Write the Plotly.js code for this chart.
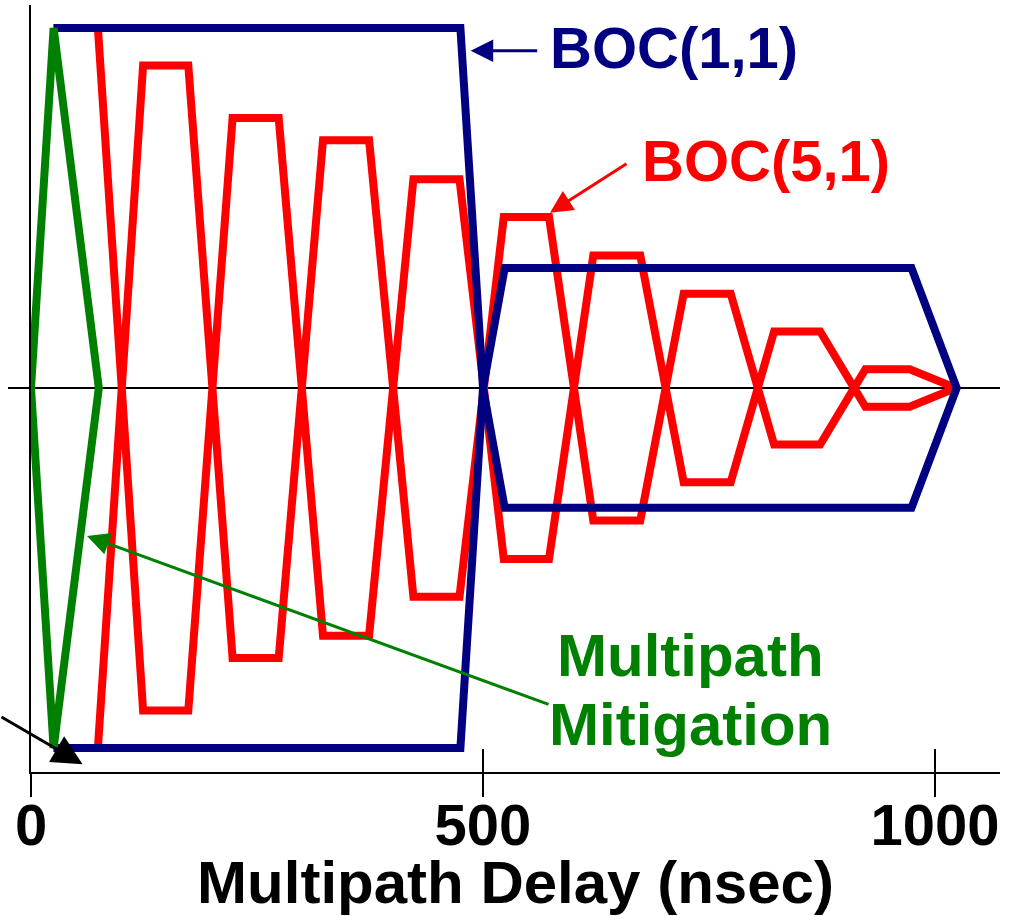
<!DOCTYPE html>
<html>
<head>
<meta charset="utf-8">
<script src="https://cdn.plot.ly/plotly-3.0.1.min.js"></script>
<style>
  html, body { margin: 0; padding: 0; background: #ffffff; }
  #chart { width: 1010px; height: 916px; }
</style>
</head>
<body>
<div id="chart"></div>
<script>
// ---- Data ----
// Multipath delay in nanoseconds, normalized error envelope
const boc11X = [25, 475, 500, 524, 974, 1024, 974, 524, 500, 475, 25];
const boc11Y = [1, 1, 0, 0.333, 0.333, 0, -0.333, -0.333, 0, -1, -1];

const boc51X = [25, 74, 124, 174, 223, 274, 323, 374, 423, 474, 523, 573, 622, 674, 722, 774, 822, 873, 923, 972, 1023,
                972, 923, 873, 822, 774, 722, 674, 622, 573, 523, 474, 423, 374, 323, 274, 223, 174, 124, 74, 25];
const boc51Y = [1, 1, -0.896, -0.896, 0.75, 0.75, -0.688, -0.688, 0.58, 0.58, -0.475, -0.475, 0.368, 0.368, -0.262, -0.262, 0.157, 0.157, -0.052, -0.052, 0,
                0.052, 0.052, -0.157, -0.157, 0.262, 0.262, -0.368, -0.368, 0.475, 0.475, -0.58, -0.58, 0.688, 0.688, -0.75, -0.75, 0.896, 0.896, -1, -1];

const mitigX = [0, 25, 75, 25, 0];
const mitigY = [0, 1, 0, -1, 0];

const xTickVals = [0, 500, 1000];
const xTickText = ['0', '500', '1000'];

const xTitle = 'Multipath Delay (nsec)';
const labelBoc11 = 'BOC(1,1)';
const labelBoc51 = 'BOC(5,1)';
const labelMitig1 = 'Multipath';
const labelMitig2 = 'Mitigation';

// ---- Styling ----
const FONT = 'Liberation Sans, Arial, Helvetica, sans-serif';
const NAVY = '#000080';
const RED = '#ff0000';
const GREEN = '#008000';

const traces = [
  { x: boc51X, y: boc51Y, type: 'scatter', mode: 'lines', name: labelBoc51,
    line: { color: RED, width: 8 }, hoverinfo: 'skip' },
  { x: boc11X, y: boc11Y, type: 'scatter', mode: 'lines', name: labelBoc11,
    line: { color: NAVY, width: 8 }, hoverinfo: 'skip' },
  { x: mitigX, y: mitigY, type: 'scatter', mode: 'lines', name: 'Multipath Mitigation',
    line: { color: GREEN, width: 8 }, hoverinfo: 'skip' },
  // empty helper trace so the overlaid tick axis (inside ticks) is drawn
  { x: [null], y: [null], xaxis: 'x2', yaxis: 'y', type: 'scatter', mode: 'lines',
    showlegend: false, hoverinfo: 'skip' }
];

const XR = [0, 1071.9];

const layout = {
  width: 1010, height: 916,
  margin: { l: 31, r: 10, t: 5, b: 144 },
  paper_bgcolor: '#ffffff', plot_bgcolor: '#ffffff',
  showlegend: false, hovermode: false,
  xaxis: {
    range: XR, showline: true, linecolor: '#000', linewidth: 2,
    ticks: 'outside', ticklen: 23, tickwidth: 2, tickcolor: '#000',
    tickmode: 'array', tickvals: xTickVals, ticktext: xTickText,
    tickfont: { family: FONT, size: 58, color: '#000', weight: 'bold' },
    ticklabelstandoff: -22,
    showgrid: false, zeroline: false, fixedrange: true,
    title: { text: xTitle, font: { family: FONT, size: 60, color: '#000', weight: 'bold' }, standoff: 4 }
  },
  xaxis2: {
    overlaying: 'x', anchor: 'y', side: 'bottom', range: XR,
    ticks: 'inside', ticklen: 23, tickwidth: 2, tickcolor: '#000',
    tickmode: 'array', tickvals: xTickVals, showticklabels: false,
    showline: false, showgrid: false, zeroline: false, fixedrange: true
  },
  yaxis: {
    range: [-1.0667, 1.0639], showline: true, linecolor: '#000', linewidth: 2,
    ticks: '', showticklabels: false, showgrid: false, zeroline: false, fixedrange: true
  },
  shapes: [
    { type: 'line', xref: 'paper', yref: 'y', x0: -0.0237, x1: 1, y0: 0, y1: 0,
      line: { color: '#000', width: 2 }, layer: 'below' }
  ],
  annotations: [
    { x: 572, y: 0.946, xref: 'x', yref: 'y', xanchor: 'left', yanchor: 'middle', text: labelBoc11,
      showarrow: false, font: { family: FONT, size: 58, color: NAVY, weight: 'bold' } },
    { x: 673.7, y: 0.631, xref: 'x', yref: 'y', xanchor: 'left', yanchor: 'middle', text: labelBoc51,
      showarrow: false, font: { family: FONT, size: 58, color: RED, weight: 'bold' } },
    { x: 729, y: -0.744, xref: 'x', yref: 'y', xanchor: 'center', yanchor: 'middle', text: labelMitig1,
      showarrow: false, font: { family: FONT, size: 60, color: GREEN, weight: 'bold' } },
    { x: 729, y: -0.936, xref: 'x', yref: 'y', xanchor: 'center', yanchor: 'middle', text: labelMitig2,
      showarrow: false, font: { family: FONT, size: 60, color: GREEN, weight: 'bold' } },
    // arrows
    { x: 486.4, y: 0.937, xref: 'x', yref: 'y', ax: 68, ay: 0, text: '', showarrow: true,
      arrowhead: 2, arrowsize: 1.5, arrowwidth: 3, arrowcolor: NAVY, standoff: 0 },
    { x: 574.1, y: 0.487, xref: 'x', yref: 'y', ax: 78, ay: -50, text: '', showarrow: true,
      arrowhead: 2, arrowsize: 1.5, arrowwidth: 3, arrowcolor: RED, standoff: 0 },
    { x: 62, y: -0.411, xref: 'x', yref: 'y', ax: 463, ay: 169, text: '', showarrow: true,
      arrowhead: 2, arrowsize: 1.5, arrowwidth: 3, arrowcolor: GREEN, standoff: 0 },
    { x: 57, y: -1.045, xref: 'x', yref: 'y', ax: -83, ay: -48, text: '', showarrow: true,
      arrowhead: 2, arrowsize: 2, arrowwidth: 3, arrowcolor: '#000', standoff: 0 }
  ]
};

Plotly.newPlot('chart', traces, layout, { displayModeBar: false, staticPlot: true });
</script>
</body>
</html>
